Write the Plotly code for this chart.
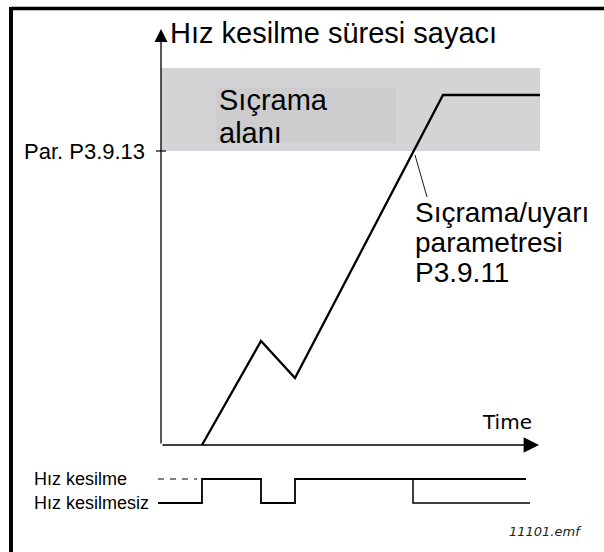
import plotly.graph_objects as go

# --- data -----------------------------------------------------------------
# stall time counter (arbitrary units) against time
counter_time = [4.1, 10.0, 13.4, 28.2, 37.9]
counter_value = [0.0, 10.4, 6.7, 35.0, 35.0]

# trip / warning parameter level and the upper edge of the trip area
trip_level = 29.4          # Par. P3.9.13
trip_area_top = 37.7
time_axis_end = 37.8
counter_axis_end = 41.6

# stall state signal (1 = stalling, 0 = not stalling)
stall_time = [-0.3, 4.1, 4.1, 10.0, 10.0, 13.4, 13.4, 36.5]
stall_state = [0, 0, 1, 1, 0, 0, 1, 1]
stall_idle_time = [-0.3, 3.6]          # dashed "stalling" reference before the first stall
trip_time = [25.2, 25.2, 36.9]         # state branch after the trip
trip_state = [1, 0, 0]

state_labels = ["Hız kesilme", "Hız kesilmesiz"]
title_text = "Hız kesilme süresi sayacı"
area_lines = ["Sıçrama", "alanı"]
param_lines = ["Sıçrama/uyarı", "parametresi", "P3.9.11"]
tick_label = "Par. P3.9.13"

W, H = 604, 552
SANS = "Liberation Sans, Arial, sans-serif"
VERD = "DejaVu Sans, Verdana, sans-serif"

fig = go.Figure()

# stall time counter curve
fig.add_trace(go.Scatter(x=counter_time, y=counter_value, mode="lines",
                         line=dict(color="black", width=2.3), hoverinfo="skip"))

# short tick on the counter axis at the trip level
fig.add_trace(go.Scatter(x=[-0.5, 0.5], y=[trip_level, trip_level], mode="lines",
                         line=dict(color="black", width=1.2), hoverinfo="skip"))

# leader from the trip crossing to its label
fig.add_trace(go.Scatter(x=[25.4, 26.6], y=[29.0, 24.8], mode="lines",
                         line=dict(color="black", width=0.9), hoverinfo="skip"))

# stall state signal
fig.add_trace(go.Scatter(x=stall_time, y=stall_state, yaxis="y2", mode="lines",
                         line=dict(color="black", width=1.8), hoverinfo="skip"))
fig.add_trace(go.Scatter(x=trip_time, y=trip_state, yaxis="y2", mode="lines",
                         line=dict(color="black", width=1.5), hoverinfo="skip"))
fig.add_trace(go.Scatter(x=stall_idle_time, y=[1, 1], yaxis="y2", mode="lines",
                         line=dict(color="black", width=1, dash="6px,6px"),
                         hoverinfo="skip"))

shapes = [
    # trip area band
    dict(type="rect", xref="x", yref="y", x0=0, x1=time_axis_end + 0.1,
         y0=trip_level, y1=trip_area_top, fillcolor="#d4d4d6",
         line=dict(width=0), layer="below"),
    dict(type="rect", xref="x", yref="y", x0=5.5, x1=23.5, y0=30.2, y1=35.8,
         fillcolor="#cdcdcf", line=dict(width=0), layer="below"),
    # frame (top and left edges)
    dict(type="line", xref="paper", yref="paper", x0=11 / W, x1=1,
         y0=1 - 8.5 / H, y1=1 - 8.5 / H, line=dict(color="black", width=3.5)),
    dict(type="line", xref="paper", yref="paper", x0=11 / W, x1=11 / W,
         y0=0, y1=1 - 7 / H, line=dict(color="black", width=4)),
]

# two-line area label: line spacing from the base size,
# glyphs enlarged with an inline span
area_text = "<br>".join(f'<span style="font-size:29px">{s}</span>' for s in area_lines)

annotations = [
    # axes with arrow heads
    dict(x=time_axis_end, y=0, ax=0, ay=0, xref="x", yref="y", axref="x",
         ayref="y", text="", showarrow=True, arrowhead=2, arrowsize=2.2,
         arrowwidth=1.4, arrowcolor="black"),
    dict(x=0, y=counter_axis_end, ax=0, ay=0, xref="x", yref="y", axref="x",
         ayref="y", text="", showarrow=True, arrowhead=2, arrowsize=2.0,
         arrowwidth=1.3, arrowcolor="black"),
    dict(x=0.7, y=41.2, xref="x", yref="y", text=title_text, showarrow=False,
         xanchor="left", yanchor="middle", font=dict(family=SANS, size=29, color="black")),
    dict(x=-1.4, y=trip_level, xref="x", yref="y", text=tick_label, showarrow=False,
         xanchor="right", yanchor="middle", font=dict(family=SANS, size=22, color="black")),
    dict(x=31.9, y=2.3, xref="x", yref="y", text="Time", showarrow=False,
         xanchor="left", yanchor="middle", font=dict(family=VERD, size=20, color="black")),
    dict(x=34.6, y=-8.6, xref="x", yref="y", text="<i>11101.emf</i>", showarrow=False,
         xanchor="left", yanchor="middle", font=dict(family=VERD, size=13, color="#222222")),
    dict(x=5.6, y=32.9, xref="x", yref="y", text=area_text, showarrow=False,
         xanchor="left", yanchor="middle", align="left",
         font=dict(family=SANS, size=25, color="black")),
]
for i, line in enumerate(param_lines):
    annotations.append(dict(x=25.2, y=23.3 - 3.0 * i, xref="x", yref="y", text=line,
                            showarrow=False, xanchor="left", yanchor="middle",
                            font=dict(family=SANS, size=28, color="black")))
for lab, lvl in zip(state_labels, [1, 0]):
    annotations.append(dict(x=-12.9, y=lvl, xref="x", yref="y2", text=lab,
                            showarrow=False, xanchor="left", yanchor="middle",
                            font=dict(family=SANS, size=18, color="black")))

fig.update_layout(
    width=W, height=H,
    margin=dict(l=0, r=0, t=0, b=0),
    paper_bgcolor="white", plot_bgcolor="white",
    showlegend=False,
    xaxis=dict(range=[-16.1, 44.3], visible=False, fixedrange=True),
    yaxis=dict(range=[-10.7, 44.5], visible=False, fixedrange=True),
    yaxis2=dict(range=[-49 / 24, 503 / 24], overlaying="y", visible=False,
                fixedrange=True),
    shapes=shapes,
    annotations=annotations,
)

fig.write_html("out.html", config={"displayModeBar": False})
